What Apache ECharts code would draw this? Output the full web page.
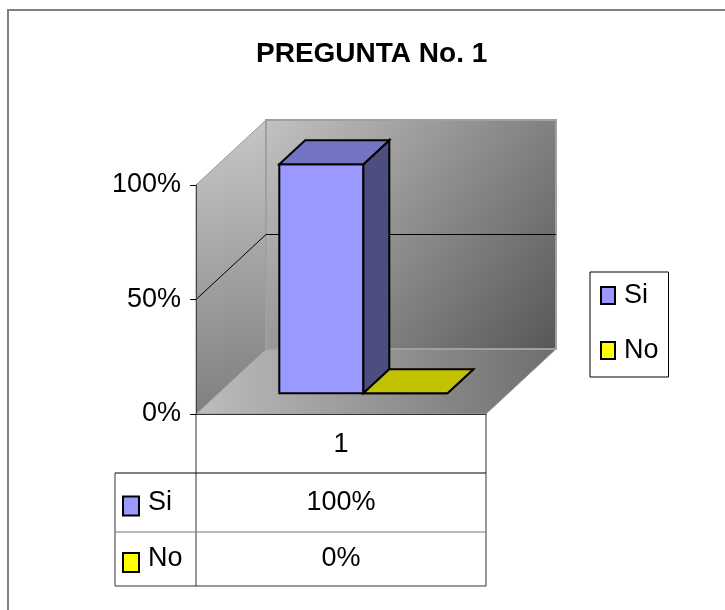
<!DOCTYPE html>
<html>
<head>
<meta charset="utf-8">
<script src="https://cdn.jsdelivr.net/npm/echarts@6/dist/echarts.min.js"></script>
<style>
  html, body { margin: 0; padding: 0; background: #fff; }
  #chart { width: 725px; height: 610px; }
</style>
</head>
<body>
<div id="chart"></div>
<script>
// datos de la pregunta 1
var categories = ['1'];
var seriesNames = ['Si', 'No'];
var siValues = [1];
var noValues = [0];
var yTicks = [0, 0.5, 1];

var FONT = 'Liberation Sans';
var DX = 70, DY = 65;          // profundidad del "3D"
var D0 = 0.32, D1 = 0.69;      // donde empieza y acaba la barra en la profundidad
var BAR = 0.29;                // ancho de cada barra respecto a la categoria

var faces = {
  Si: { front: '#9999FF', top: '#7474C4', side: '#4D4D80' },
  No: { front: '#FFFF00', top: '#C2C200', side: '#808000' }
};

function pct(v) { return Math.round(v * 100) + '%'; }

function renderWalls(params, api) {
  var cat = api.value(0);
  var band = api.size([1, 0])[0];
  var c = api.coord([cat, yTicks[0]]);
  var xl = c[0] - band / 2, xr = c[0] + band / 2;
  var y0 = c[1];
  var y1 = api.coord([cat, yTicks[yTicks.length - 1]])[1];
  var kids = [];
  // piso
  kids.push({
    type: 'polygon',
    shape: { points: [[xl, y0], [xr, y0], [xr + DX, y0 - DY], [xl + DX, y0 - DY]] },
    style: {
      fill: new echarts.graphic.LinearGradient(0, 0, 1, 0, [
        { offset: 0, color: '#bdbdbd' }, { offset: 1, color: '#6e6e6e' }
      ]),
      stroke: '#9a9a9a', lineWidth: 1
    }
  });
  // pared izquierda
  kids.push({
    type: 'polygon',
    shape: { points: [[xl, y1], [xl + DX, y1 - DY], [xl + DX, y0 - DY], [xl, y0]] },
    style: {
      fill: new echarts.graphic.LinearGradient(0, 0, 1, 1, [
        { offset: 0, color: '#cacaca' }, { offset: 1, color: '#7c7c7c' }
      ]),
      stroke: '#9a9a9a', lineWidth: 1
    }
  });
  // pared del fondo
  kids.push({
    type: 'rect',
    shape: { x: xl + DX, y: y1 - DY, width: xr - xl, height: y0 - y1 },
    style: {
      fill: new echarts.graphic.LinearGradient(0, 0, 1, 1, [
        { offset: 0, color: '#c2c2c2' }, { offset: 1, color: '#575757' }
      ]),
      stroke: '#a0a0a0', lineWidth: 2
    }
  });
  // lineas de division
  for (var i = 1; i < yTicks.length - 1; i++) {
    var yy = api.coord([cat, yTicks[i]])[1];
    kids.push({
      type: 'polyline',
      shape: { points: [[xl, yy], [xl + DX, yy - DY], [xr + DX, yy - DY]] },
      style: { stroke: '#000', lineWidth: 1, fill: null }
    });
  }
  return { type: 'group', children: kids };
}

function makeBar(k) {
  var col = faces[seriesNames[k]];
  return function (params, api) {
    var cat = api.value(0);
    var val = api.value(1);
    var band = api.size([1, 0])[0];
    var base = api.coord([cat, 0]);
    var yb = base[1];
    var yt = api.coord([cat, val])[1];
    var bw = band * BAR;
    var x0 = base[0] - bw + k * bw, x1 = x0 + bw;
    var fx = DX * D0, fy = -DY * D0, bx = DX * D1, by = -DY * D1;
    var st = { stroke: '#000', lineWidth: 2, lineJoin: 'miter' };
    return {
      type: 'group',
      children: [
        { type: 'polygon', shape: { points: [[x0 + fx, yt + fy], [x1 + fx, yt + fy], [x1 + fx, yb + fy], [x0 + fx, yb + fy]] },
          style: Object.assign({ fill: col.front }, st) },
        { type: 'polygon', shape: { points: [[x1 + fx, yt + fy], [x1 + bx, yt + by], [x1 + bx, yb + by], [x1 + fx, yb + fy]] },
          style: Object.assign({ fill: col.side }, st) },
        { type: 'polygon', shape: { points: [[x0 + fx, yt + fy], [x0 + bx, yt + by], [x1 + bx, yt + by], [x1 + fx, yt + fy]] },
          style: Object.assign({ fill: col.top }, st) }
      ]
    };
  };
}

// tabla de datos debajo del grafico
var tL = 115, tA = 196, tR = 486;
var rows = [414, 473, 532, 586];
var tableRows = [
  { name: seriesNames[0], values: siValues, color: faces.Si.front },
  { name: seriesNames[1], values: noValues, color: faces.No.front }
];
var txt = { fontFamily: FONT, fontSize: 27, fill: '#000' };
var graphic = [
  { type: 'rect', shape: { x: 8, y: 10, width: 760, height: 660 }, style: { fill: null, stroke: '#808080', lineWidth: 2 } },
  { type: 'line', shape: { x1: tA, y1: rows[0], x2: tA, y2: rows[3] }, style: { stroke: '#333', lineWidth: 1 } },
  { type: 'line', shape: { x1: tR, y1: rows[0], x2: tR, y2: rows[3] }, style: { stroke: '#333', lineWidth: 1 } },
  { type: 'line', shape: { x1: tL, y1: rows[1], x2: tL, y2: rows[3] }, style: { stroke: '#333', lineWidth: 1 } },
  { type: 'line', shape: { x1: tL, y1: rows[1], x2: tR, y2: rows[1] }, style: { stroke: '#000', lineWidth: 1 } },
  { type: 'line', shape: { x1: tL, y1: rows[2], x2: tR, y2: rows[2] }, style: { stroke: '#777', lineWidth: 1 } },
  { type: 'line', shape: { x1: tL, y1: rows[3], x2: tR, y2: rows[3] }, style: { stroke: '#333', lineWidth: 1 } }
];
tableRows.forEach(function (r, i) {
  var yc = (rows[i + 1] + rows[i + 2]) / 2;
  graphic.push({ type: 'rect', shape: { x: 123, y: yc - 6, width: 16, height: 19 },
    style: { fill: r.color, stroke: '#000', lineWidth: 2 } });
  graphic.push({ type: 'text', x: 148, y: yc, style: Object.assign({ text: r.name, verticalAlign: 'middle', align: 'left' }, txt) });
  graphic.push({ type: 'text', x: (tA + tR) / 2, y: yc, style: Object.assign({ text: pct(r.values[0]), verticalAlign: 'middle', align: 'center' }, txt) });
});

var chart = echarts.init(document.getElementById('chart'), null, { renderer: 'canvas' });
chart.setOption({
  backgroundColor: '#fff',
  animation: false,
  title: {
    text: 'PREGUNTA No. 1',
    left: 256, top: 40, padding: 0,
    textStyle: { fontFamily: FONT, fontSize: 28, fontWeight: 'bold', color: '#000' }
  },
  legend: {
    data: seriesNames,
    orient: 'vertical',
    left: 590, top: 272,
    padding: [10, 10, 13, 10],
    itemGap: 28, itemWidth: 14, itemHeight: 17,
    icon: 'rect',
    borderColor: '#000', borderWidth: 1,
    itemStyle: { borderColor: '#000', borderWidth: 2 },
    textStyle: { fontFamily: FONT, fontSize: 27, color: '#000', padding: [0, 0, 0, 4] }
  },
  grid: { left: 196, top: 185, width: 290, height: 229 },
  xAxis: {
    type: 'category', data: categories, z: 5,
    axisLine: { lineStyle: { color: '#333', width: 1 } },
    axisTick: { show: false },
    axisLabel: { fontFamily: FONT, fontSize: 27, color: '#000', margin: 17 }
  },
  yAxis: {
    type: 'value', min: yTicks[0], max: yTicks[yTicks.length - 1], interval: 0.5, z: 5,
    axisLine: { show: true, lineStyle: { color: '#444', width: 1 } },
    axisTick: { show: true, length: 6, lineStyle: { color: '#000' } },
    splitLine: { show: false },
    axisLabel: { fontFamily: FONT, fontSize: 27, color: '#000', margin: 15, formatter: pct }
  },
  graphic: graphic,
  series: [
    { type: 'custom', name: 'walls', z: 1, silent: true, renderItem: renderWalls,
      data: [[categories[0], 0]] },
    { type: 'custom', name: 'Si', z: 3, renderItem: makeBar(0), itemStyle: { color: faces.Si.front },
      data: siValues.map(function (v, i) { return [categories[i], v]; }) },
    { type: 'custom', name: 'No', z: 4, renderItem: makeBar(1), itemStyle: { color: faces.No.front },
      data: noValues.map(function (v, i) { return [categories[i], v]; }) }
  ]
});
</script>
</body>
</html>
